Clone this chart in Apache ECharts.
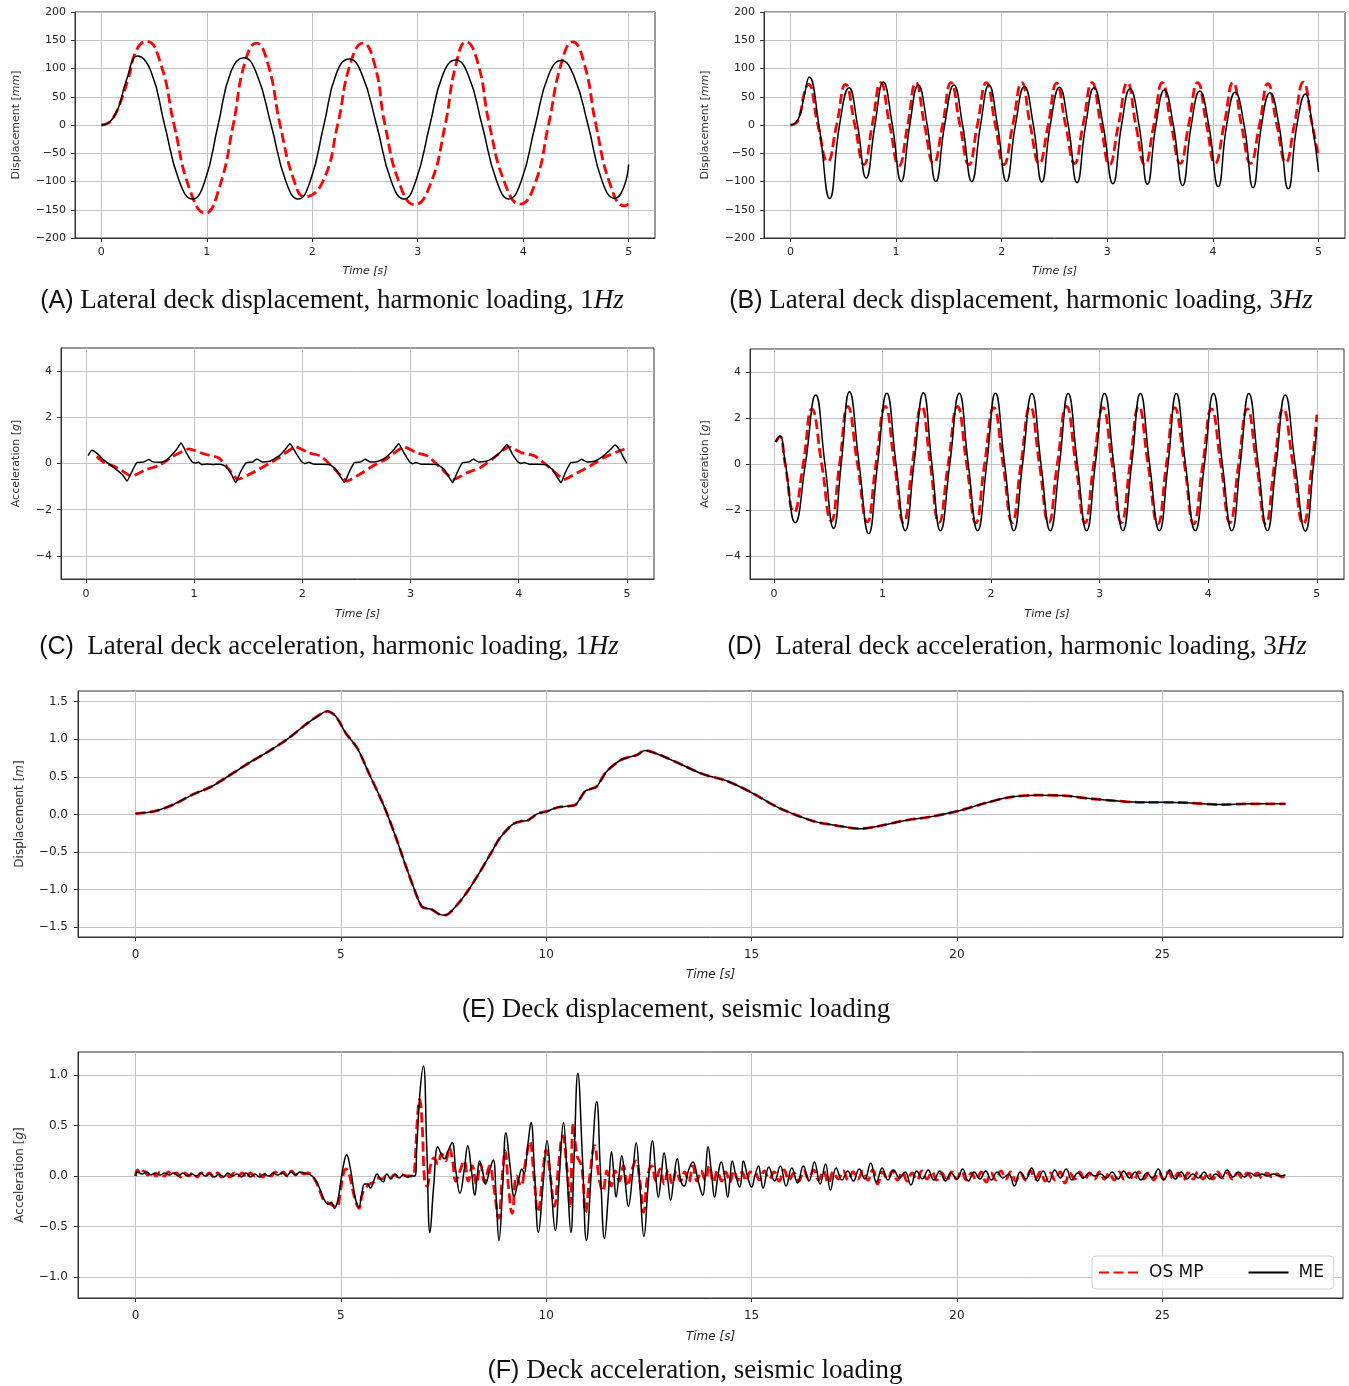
<!DOCTYPE html>
<html><head><meta charset="utf-8">
<script src="https://cdn.jsdelivr.net/npm/echarts@6/dist/echarts.min.js"></script>
<style>html,body{margin:0;padding:0;background:#fff}#c{width:1349px;height:1386px}</style>
</head><body><div id="c"></div>
<script>
// ---------- tick labels ----------
const xTicksHarm = [0, 1, 2, 3, 4, 5];
const xTicksSeis = [0, 5, 10, 15, 20, 25];
const yTicksDispH = [-200, -150, -100, -50, 0, 50, 100, 150, 200];
const yTicksAccH = [-4, -2, 0, 2, 4];
const yTicksDispS = [-1.5, -1.0, -0.5, 0, 0.5, 1.0, 1.5];
const yTicksAccS = [-1.0, -0.5, 0, 0.5, 1.0];
const seriesNames = ['OS MP', 'ME'];

// ---------- (A) displacement 1 Hz [time s, mm] ----------
const meA = [[0,0],[0.05,2],[0.11,12],[0.17,35],[0.235,78],[0.345,122],[0.47,95],[0.6,0],[0.74,-100],[0.864,-131],[0.98,-100],[1.107,0],[1.23,95],[1.35,119],[1.47,92],[1.61,0],[1.75,-100],[1.865,-131],[1.98,-100],[2.11,0],[2.23,92],[2.35,117],[2.47,90],[2.61,0],[2.75,-100],[2.87,-131],[2.98,-100],[3.115,0],[3.24,90],[3.36,115],[3.48,88],[3.61,0],[3.75,-100],[3.865,-131],[3.98,-100],[4.115,0],[4.24,88],[4.36,114],[4.48,87],[4.615,0],[4.75,-100],[4.87,-130],[4.95,-112],[5.0,-70]];
const osmpA = [[0,0],[0.05,2],[0.11,12],[0.17,35],[0.255,82],[0.337,134],[0.43,148],[0.56,110],[0.69,0],[0.84,-115],[0.985,-156],[1.12,-110],[1.25,0],[1.36,110],[1.47,145],[1.58,108],[1.695,0],[1.83,-100],[1.93,-127],[2.1,-100],[2.24,0],[2.36,108],[2.48,145],[2.59,108],[2.69,0],[2.83,-105],[2.97,-141],[3.12,-105],[3.26,0],[3.36,105],[3.46,147],[3.57,110],[3.68,0],[3.83,-105],[3.97,-140],[4.11,-105],[4.24,0],[4.36,108],[4.47,147],[4.58,108],[4.69,0],[4.83,-108],[4.96,-143],[5.0,-140]];

// ---------- (B) displacement 3 Hz ----------
const meB = [[0,0],[0.05,4],[0.09,18],[0.13,51],[0.178,85],[0.27,0],[0.372,-130],[0.465,0],[0.555,66],[0.635,0],[0.717,-94],[0.8,0],[0.879,76],[0.965,0],[1.049,-100],[1.13,0],[1.21,71],[1.295,0],[1.377,-100],[1.46,0],[1.547,71],[1.63,0],[1.717,-100],[1.8,0],[1.879,71],[1.96,0],[2.045,-100],[2.13,0],[2.215,68],[2.3,0],[2.38,-101],[2.46,0],[2.547,67],[2.63,0],[2.713,-102],[2.795,0],[2.874,66],[2.96,0],[3.053,-104],[3.135,0],[3.215,64],[3.3,0],[3.38,-105],[3.46,0],[3.54,62],[3.625,0],[3.713,-107],[3.795,0],[3.875,60],[3.96,0],[4.05,-109],[4.13,0],[4.21,58],[4.295,0],[4.38,-111],[4.46,0],[4.54,57],[4.625,0],[4.713,-113],[4.795,0],[4.875,55],[4.94,0],[5.0,-83]];
const osmpB = [[0,0],[0.05,3],[0.09,18],[0.13,55],[0.17,72],[0.26,0],[0.352,-65],[0.437,0],[0.522,72],[0.61,0],[0.696,-70],[0.775,0],[0.855,75],[0.94,0],[1.028,-72],[1.11,0],[1.188,75],[1.27,0],[1.355,-68],[1.44,0],[1.52,75],[1.605,0],[1.69,-70],[1.77,0],[1.855,75],[1.94,0],[2.02,-70],[2.105,0],[2.19,75],[2.27,0],[2.355,-68],[2.44,0],[2.52,74],[2.605,0],[2.69,-68],[2.77,0],[2.855,75],[2.94,0],[3.02,-70],[3.105,0],[3.19,75],[3.27,0],[3.355,-70],[3.44,0],[3.52,75],[3.605,0],[3.69,-68],[3.77,0],[3.855,75],[3.94,0],[4.02,-68],[4.105,0],[4.19,75],[4.27,0],[4.355,-68],[4.44,0],[4.52,73],[4.605,0],[4.69,-66],[4.77,0],[4.855,76],[4.94,0],[5.0,-56]];

// ---------- (C) acceleration 1 Hz [g] ----------
const meC = [[0.02,0.34],[0.055,0.57],[0.1,0.45],[0.16,0.17],[0.24,-0.11],[0.3,-0.33],[0.34,-0.5],[0.38,-0.76],[0.42,-0.4],[0.47,0.03],[0.53,0.06],[0.58,0.17],[0.62,0.07],[0.68,0.05],[0.74,0.12],[0.79,0.36],[0.84,0.62],[0.88,0.89],[0.93,0.45],[0.98,0.08],[1.01,0.02],[1.04,0.05],[1.07,-0.04],[1.12,-0.02],[1.18,-0.04],[1.24,-0.03],[1.29,-0.12],[1.34,-0.42],[1.385,-0.83],[1.425,-0.4],[1.48,0.03],[1.54,0.06],[1.58,0.2],[1.63,0.07],[1.7,0.1],[1.74,0.2],[1.79,0.35],[1.84,0.6],[1.886,0.86],[1.94,0.46],[1.99,0.1],[2.02,0.0],[2.06,0.05],[2.1,-0.02],[2.16,-0.03],[2.25,-0.04],[2.31,-0.26],[2.35,-0.55],[2.39,-0.82],[2.43,-0.4],[2.48,0.03],[2.54,0.07],[2.58,0.18],[2.63,0.06],[2.7,0.1],[2.75,0.2],[2.8,0.38],[2.85,0.62],[2.89,0.85],[2.94,0.45],[2.99,0.08],[3.02,-0.01],[3.05,0.04],[3.1,-0.03],[3.17,-0.03],[3.25,-0.05],[3.31,-0.25],[3.35,-0.55],[3.39,-0.83],[3.43,-0.4],[3.48,0.03],[3.54,0.07],[3.58,0.18],[3.63,0.07],[3.7,0.1],[3.75,0.2],[3.8,0.36],[3.85,0.6],[3.89,0.82],[3.94,0.42],[3.99,0.08],[4.02,0.0],[4.05,0.04],[4.1,-0.03],[4.17,-0.03],[4.25,-0.05],[4.31,-0.25],[4.35,-0.55],[4.39,-0.83],[4.43,-0.4],[4.48,0.03],[4.54,0.07],[4.58,0.18],[4.63,0.07],[4.7,0.1],[4.75,0.22],[4.8,0.4],[4.85,0.62],[4.89,0.8],[4.93,0.6],[4.97,0.25],[5.0,0.0]];
const osmpC = [[0.1,0.3],[0.18,0.0],[0.26,-0.12],[0.33,-0.3],[0.42,-0.55],[0.556,-0.26],[0.675,-0.09],[0.8,0.3],[0.95,0.63],[1.11,0.39],[1.23,0.24],[1.31,-0.19],[1.405,-0.69],[1.54,-0.4],[1.66,-0.09],[1.78,0.24],[1.94,0.72],[2.06,0.46],[2.17,0.32],[2.29,-0.19],[2.41,-0.76],[2.53,-0.47],[2.65,-0.11],[2.77,0.17],[2.94,0.72],[3.06,0.46],[3.16,0.32],[3.28,-0.19],[3.4,-0.69],[3.52,-0.4],[3.64,-0.19],[3.75,0.17],[3.91,0.72],[4.03,0.46],[4.15,0.32],[4.29,-0.19],[4.42,-0.69],[4.54,-0.4],[4.66,-0.11],[4.78,0.24],[4.9,0.49],[5.0,0.67]];

// ---------- (D) acceleration 3 Hz [g] ----------
const meD = [[0.016,0.96],[0.055,1.22],[0.1,0.2],[0.197,-2.55],[0.29,0],[0.385,3.0],[0.47,0],[0.55,-2.8],[0.62,0],[0.696,3.14],[0.785,0],[0.873,-3.03],[0.955,0],[1.04,3.08],[1.125,0],[1.21,-2.9],[1.29,0],[1.377,3.1],[1.455,0],[1.534,-2.9],[1.62,0],[1.707,3.08],[1.79,0],[1.876,-2.9],[1.96,0],[2.04,3.08],[2.125,0],[2.21,-2.9],[2.29,0],[2.376,3.07],[2.46,0],[2.545,-2.9],[2.63,0],[2.71,3.07],[2.795,0],[2.88,-2.9],[2.96,0],[3.045,3.07],[3.13,0],[3.214,-2.9],[3.295,0],[3.375,3.07],[3.46,0],[3.55,-2.9],[3.63,0],[3.706,3.07],[3.79,0],[3.88,-2.9],[3.965,0],[4.048,3.07],[4.13,0],[4.217,-2.9],[4.295,0],[4.374,3.07],[4.46,0],[4.544,-2.9],[4.625,0],[4.709,3.0],[4.8,0],[4.894,-2.92],[4.97,0],[5.0,1.6]];
const osmpD = [[0.016,0.96],[0.055,1.2],[0.1,0.1],[0.185,-2.1],[0.27,0],[0.35,2.39],[0.44,0],[0.527,-2.48],[0.605,0],[0.68,2.5],[0.77,0],[0.86,-2.52],[0.94,0],[1.025,2.5],[1.11,0],[1.195,-2.55],[1.275,0],[1.36,2.5],[1.44,0],[1.52,-2.55],[1.605,0],[1.69,2.5],[1.775,0],[1.86,-2.55],[1.94,0],[2.025,2.45],[2.11,0],[2.195,-2.55],[2.275,0],[2.36,2.5],[2.445,0],[2.53,-2.55],[2.61,0],[2.695,2.5],[2.78,0],[2.865,-2.55],[2.945,0],[3.03,2.45],[3.115,0],[3.2,-2.55],[3.28,0],[3.36,2.5],[3.445,0],[3.535,-2.6],[3.615,0],[3.69,2.45],[3.78,0],[3.865,-2.6],[3.95,0],[4.03,2.4],[4.115,0],[4.2,-2.55],[4.28,0],[4.36,2.4],[4.445,0],[4.53,-2.6],[4.61,0],[4.69,2.4],[4.78,0],[4.875,-2.6],[4.955,0],[5.0,2.15]];

// ---------- (E) seismic displacement [m] ----------
const meE = [[0,0.01],[0.45,0.04],[0.92,0.13],[1.38,0.26],[1.85,0.37],[2.32,0.53],[2.78,0.69],[3.25,0.84],[3.72,1.01],[4.18,1.21],[4.56,1.35],[4.67,1.37],[4.88,1.30],[5.12,1.08],[5.4,0.88],[5.68,0.55],[6.05,0.11],[6.33,-0.29],[6.61,-0.73],[6.89,-1.14],[6.98,-1.23],[7.1,-1.25],[7.2,-1.26],[7.4,-1.33],[7.54,-1.34],[7.82,-1.21],[8.1,-1.01],[8.38,-0.77],[8.66,-0.51],[8.85,-0.33],[9.05,-0.2],[9.22,-0.12],[9.4,-0.09],[9.55,-0.08],[9.79,0.01],[10.02,0.04],[10.2,0.08],[10.35,0.10],[10.55,0.11],[10.72,0.13],[10.95,0.31],[11.1,0.34],[11.23,0.37],[11.47,0.57],[11.84,0.73],[12.21,0.79],[12.4,0.85],[12.77,0.79],[13.3,0.66],[13.84,0.53],[14.37,0.45],[15,0.29],[15.65,0.09],[16.5,-0.09],[17.04,-0.145],[17.62,-0.19],[18.1,-0.155],[18.74,-0.08],[19.38,-0.03],[20.02,0.044],[20.66,0.145],[21.3,0.23],[21.94,0.255],[22.58,0.25],[23.22,0.21],[23.86,0.18],[24.5,0.16],[25.03,0.16],[25.57,0.155],[26.42,0.13],[27.16,0.14],[28.0,0.14]];
const osmpE = [[0,0.01],[0.45,0.04],[0.92,0.13],[1.38,0.26],[1.85,0.37],[2.32,0.53],[2.78,0.69],[3.25,0.84],[3.72,1.01],[4.18,1.21],[4.56,1.35],[4.67,1.37],[4.88,1.30],[5.12,1.08],[5.4,0.88],[5.68,0.55],[6.05,0.11],[6.33,-0.29],[6.61,-0.73],[6.89,-1.14],[6.98,-1.23],[7.1,-1.25],[7.2,-1.26],[7.4,-1.33],[7.54,-1.34],[7.82,-1.21],[8.1,-1.01],[8.38,-0.77],[8.66,-0.51],[8.85,-0.33],[9.05,-0.2],[9.22,-0.12],[9.4,-0.09],[9.55,-0.08],[9.79,0.01],[10.02,0.04],[10.2,0.08],[10.35,0.10],[10.55,0.11],[10.72,0.13],[10.95,0.31],[11.1,0.34],[11.23,0.37],[11.47,0.57],[11.84,0.73],[12.21,0.79],[12.4,0.85],[12.77,0.79],[13.3,0.66],[13.84,0.53],[14.37,0.45],[15,0.29],[15.65,0.09],[16.5,-0.09],[17.04,-0.145],[17.62,-0.19],[18.1,-0.155],[18.74,-0.08],[19.38,-0.03],[20.02,0.044],[20.66,0.145],[21.3,0.23],[21.94,0.255],[22.58,0.25],[23.22,0.21],[23.86,0.18],[24.5,0.16],[25.03,0.16],[25.57,0.155],[26.42,0.13],[27.16,0.14],[28.0,0.14]];

// ---------- (F) seismic acceleration [g] ----------
const meF = [[0,0.0],[0.05,0.04],[0.16,0.02],[0.27,0.04],[0.38,0.01],[0.49,0.03],[0.6,0.01],[0.71,0.03],[0.82,0.01],[0.93,0.03],[1.04,0.0],[1.15,0.03],[1.26,0.0],[1.37,0.02],[1.48,0.0],[1.59,0.03],[1.7,0.0],[1.81,0.02],[1.92,-0.01],[2.03,0.02],[2.14,-0.01],[2.25,0.03],[2.36,0.0],[2.47,0.02],[2.58,-0.01],[2.69,0.03],[2.8,-0.01],[2.91,0.02],[3.02,-0.01],[3.13,0.02],[3.24,0.0],[3.35,0.03],[3.46,0.01],[3.57,0.03],[3.68,0.0],[3.79,0.04],[3.9,0.01],[4.0,0.04],[4.1,0.03],[4.2,0.02],[4.3,0.0],[4.4,-0.05],[4.5,-0.14],[4.6,-0.24],[4.7,-0.28],[4.77,-0.26],[4.84,-0.32],[4.92,-0.25],[5.0,-0.05],[5.07,0.12],[5.14,0.21],[5.22,0.1],[5.3,-0.1],[5.37,-0.25],[5.44,-0.31],[5.5,-0.2],[5.58,-0.08],[5.65,-0.08],[5.72,-0.12],[5.8,-0.05],[5.88,0.02],[5.95,-0.02],[6.03,-0.06],[6.12,0.02],[6.22,-0.03],[6.32,0.02],[6.42,-0.02],[6.52,0.01],[6.62,-0.01],[6.72,0.0],[6.8,0.0],[6.85,0.3],[6.92,0.8],[7.01,1.09],[7.09,0.3],[7.17,-0.56],[7.26,-0.1],[7.36,0.29],[7.44,0.22],[7.52,0.17],[7.61,0.25],[7.71,0.33],[7.8,0.05],[7.9,-0.17],[8.0,0.05],[8.09,0.30],[8.18,0.05],[8.26,-0.19],[8.32,0.0],[8.38,0.15],[8.45,0.05],[8.52,-0.08],[8.62,0.05],[8.71,0.16],[8.78,-0.2],[8.85,-0.64],[8.94,-0.1],[9.02,0.43],[9.12,0.1],[9.22,-0.2],[9.32,-0.05],[9.41,0.07],[9.46,0.02],[9.55,0.3],[9.63,0.53],[9.72,0.0],[9.81,-0.56],[9.92,-0.1],[10.02,0.35],[10.12,-0.1],[10.22,-0.54],[10.32,0.0],[10.42,0.53],[10.51,0.0],[10.6,-0.56],[10.68,0.2],[10.77,1.02],[10.88,0.2],[10.98,-0.64],[11.1,0.05],[11.23,0.74],[11.32,0.05],[11.42,-0.62],[11.51,-0.2],[11.59,0.24],[11.65,0.0],[11.7,-0.21],[11.77,0.0],[11.84,0.20],[11.92,-0.05],[12.0,-0.30],[12.1,0.0],[12.19,0.33],[12.28,-0.1],[12.38,-0.60],[12.48,-0.1],[12.59,0.35],[12.66,0.05],[12.73,-0.21],[12.8,0.0],[12.87,0.23],[12.95,0.0],[13.03,-0.24],[13.1,-0.05],[13.19,0.17],[13.28,-0.05],[13.36,-0.1],[13.46,0.05],[13.57,0.14],[13.7,-0.05],[13.81,-0.19],[13.88,0.05],[13.94,0.29],[14.02,0.05],[14.1,-0.21],[14.18,0.0],[14.26,0.14],[14.34,0.0],[14.42,-0.21],[14.48,0.0],[14.53,0.15],[14.62,0.0],[14.71,-0.11],[14.76,0.0],[14.8,0.15],[14.9,0.0],[15.0,-0.11],[15.08,0.0],[15.17,0.1],[15.22,0.0],[15.28,-0.12],[15.42,0.09],[15.56,-0.05],[15.7,0.1],[15.84,-0.1],[15.98,0.08],[16.12,-0.07],[16.26,0.1],[16.4,-0.05],[16.53,0.14],[16.67,-0.08],[16.8,0.12],[16.92,-0.14],[17.06,0.08],[17.2,-0.04],[17.34,0.05],[17.48,-0.05],[17.62,0.07],[17.76,-0.03],[17.9,0.13],[18.04,-0.06],[18.18,0.08],[18.32,-0.04],[18.46,0.06],[18.6,-0.02],[18.74,0.04],[18.88,-0.09],[19.02,0.05],[19.16,-0.03],[19.3,0.06],[19.44,-0.04],[19.58,0.05],[19.72,-0.05],[19.86,0.03],[20.0,-0.03],[20.14,0.07],[20.28,-0.05],[20.42,0.04],[20.56,-0.03],[20.7,0.05],[20.84,-0.04],[20.98,0.04],[21.12,-0.02],[21.26,0.02],[21.4,-0.1],[21.54,0.04],[21.68,-0.03],[21.82,0.08],[21.96,-0.05],[22.1,0.05],[22.24,-0.06],[22.38,0.06],[22.52,-0.02],[22.66,0.07],[22.8,-0.04],[22.94,0.03],[23.08,-0.02],[23.22,0.03],[23.36,0.0],[23.5,0.02],[23.64,-0.02],[23.78,0.04],[23.92,-0.03],[24.06,0.05],[24.2,-0.02],[24.34,0.04],[24.48,-0.04],[24.62,0.03],[24.76,-0.02],[24.9,0.07],[25.04,-0.04],[25.18,0.06],[25.32,-0.03],[25.46,0.04],[25.6,-0.03],[25.74,0.02],[25.88,-0.02],[26.02,0.04],[26.16,-0.03],[26.3,0.02],[26.44,-0.02],[26.58,0.06],[26.72,-0.01],[26.86,0.04],[27.0,-0.01],[27.14,0.03],[27.28,0.0],[27.42,0.02],[27.56,0.0],[27.7,0.02],[27.84,0.0],[28.0,0.01]];
const osmpF = [[0,0.0],[0.05,0.06],[0.12,0.02],[0.2,0.05],[0.3,0.01],[0.4,0.04],[0.5,0.0],[0.6,0.04],[0.7,0.0],[0.8,0.04],[0.9,0.01],[1.0,0.03],[1.1,-0.01],[1.2,0.03],[1.3,0.0],[1.4,0.03],[1.5,-0.01],[1.6,0.03],[1.7,0.0],[1.8,0.03],[1.9,-0.01],[2.0,0.03],[2.1,-0.01],[2.2,0.02],[2.3,-0.01],[2.4,0.03],[2.5,0.0],[2.6,0.03],[2.7,-0.02],[2.8,0.03],[2.9,0.0],[3.0,0.02],[3.1,-0.01],[3.2,0.03],[3.3,0.0],[3.4,0.04],[3.5,0.01],[3.6,0.04],[3.7,0.0],[3.8,0.05],[3.9,0.01],[4.0,0.04],[4.1,0.02],[4.2,0.03],[4.3,0.0],[4.4,-0.06],[4.5,-0.16],[4.6,-0.25],[4.7,-0.27],[4.8,-0.29],[4.9,-0.31],[4.98,-0.18],[5.05,0.0],[5.12,0.07],[5.2,0.02],[5.28,-0.12],[5.36,-0.25],[5.44,-0.32],[5.52,-0.18],[5.6,-0.12],[5.7,-0.08],[5.8,-0.06],[5.9,-0.02],[6.0,-0.03],[6.1,0.0],[6.2,-0.02],[6.3,0.01],[6.4,-0.01],[6.5,0.01],[6.6,0.0],[6.75,0.0],[6.8,0.1],[6.86,0.55],[6.92,0.76],[6.98,0.5],[7.04,-0.05],[7.1,-0.1],[7.18,0.1],[7.27,0.18],[7.36,0.12],[7.45,0.22],[7.55,0.15],[7.64,0.28],[7.72,0.15],[7.8,-0.05],[7.9,0.05],[8.0,0.15],[8.1,-0.05],[8.2,0.1],[8.3,-0.08],[8.4,0.12],[8.5,-0.06],[8.62,0.1],[8.72,-0.1],[8.84,-0.42],[8.93,0.0],[9.0,0.25],[9.08,-0.1],[9.17,-0.37],[9.28,0.0],[9.38,-0.1],[9.5,0.15],[9.6,0.34],[9.7,0.0],[9.8,-0.36],[9.9,-0.05],[10.0,0.26],[10.1,0.0],[10.2,-0.3],[10.3,0.1],[10.4,0.4],[10.5,0.1],[10.58,-0.3],[10.66,0.52],[10.75,0.2],[10.86,0.1],[10.96,-0.36],[11.06,0.0],[11.18,0.3],[11.28,0.0],[11.38,-0.15],[11.48,0.05],[11.58,-0.1],[11.68,0.05],[11.78,-0.05],[11.88,0.1],[11.98,-0.1],[12.08,0.05],[12.18,0.15],[12.28,-0.05],[12.37,-0.36],[12.47,0.0],[12.57,0.1],[12.67,-0.05],[12.77,0.07],[12.87,-0.08],[12.97,0.06],[13.07,-0.08],[13.17,0.05],[13.27,-0.05],[13.37,0.04],[13.47,-0.06],[13.57,0.1],[13.67,-0.05],[13.77,0.05],[13.87,-0.04],[13.97,0.1],[14.07,-0.06],[14.17,0.05],[14.27,-0.05],[14.37,0.04],[14.47,-0.06],[14.57,0.05],[14.67,-0.04],[14.77,0.04],[14.87,-0.05],[14.97,0.04],[15.07,0.04],[15.19,-0.04],[15.31,0.05],[15.43,-0.03],[15.55,0.04],[15.67,-0.05],[15.79,0.06],[15.91,-0.04],[16.03,0.03],[16.15,-0.05],[16.27,0.05],[16.39,-0.03],[16.51,0.06],[16.63,-0.04],[16.75,0.05],[16.87,-0.07],[16.99,0.04],[17.11,-0.03],[17.23,0.05],[17.35,-0.04],[17.47,0.04],[17.59,-0.03],[17.71,0.05],[17.83,-0.04],[17.95,0.06],[18.07,-0.08],[18.19,0.04],[18.31,-0.03],[18.43,0.05],[18.55,-0.04],[18.67,0.04],[18.79,-0.05],[18.91,0.03],[19.03,-0.04],[19.15,0.05],[19.27,-0.03],[19.39,0.04],[19.51,-0.04],[19.63,0.03],[19.75,-0.05],[19.87,0.04],[19.99,-0.03],[20.11,0.05],[20.23,-0.04],[20.35,0.03],[20.47,-0.04],[20.59,0.04],[20.71,-0.06],[20.83,0.03],[20.95,-0.04],[21.07,0.05],[21.19,-0.03],[21.31,0.04],[21.43,-0.05],[21.55,0.03],[21.67,-0.04],[21.79,0.05],[21.91,-0.03],[22.03,0.04],[22.15,-0.05],[22.27,0.03],[22.39,-0.04],[22.51,0.04],[22.63,-0.07],[22.75,0.03],[22.87,-0.03],[22.99,0.04],[23.11,-0.04],[23.23,0.03],[23.35,-0.03],[23.47,0.04],[23.59,-0.03],[23.71,0.03],[23.83,-0.04],[23.95,0.04],[24.07,-0.03],[24.19,0.03],[24.31,-0.04],[24.43,0.04],[24.55,-0.03],[24.67,0.03],[24.79,-0.04],[24.91,0.04],[25.03,-0.03],[25.15,0.04],[25.27,-0.03],[25.39,0.03],[25.51,-0.04],[25.63,0.03],[25.75,-0.03],[25.87,0.04],[25.99,-0.03],[26.11,0.03],[26.23,-0.03],[26.35,0.04],[26.47,-0.02],[26.59,0.03],[26.71,-0.03],[26.83,0.03],[26.95,-0.02],[27.07,0.03],[27.19,-0.02],[27.31,0.03],[27.43,-0.02],[27.55,0.03],[27.67,-0.01],[27.79,0.02],[27.91,-0.01],[28.0,0.01]];

// ---------- layout / style ----------
const TICK_FONT = 'DejaVu Sans';
const minus = s => String(s).replace('-', '\u2212');
const fmtInt = v => minus(v);
const fmt1 = v => minus(Number(v).toFixed(1));

const panels = [
  {grid:{left:75,top:12,width:580,height:226}, xr:[-0.25,5.25], xt:xTicksHarm, yr:[-200,200], yt:yTicksDispH, fmt:fmtInt, yname:['Displacement [','mm',']'], ygap:53, xgap:28, xm:9, ym:9, os:osmpA, me:meA, sm:0.5, fs:11},
  {grid:{left:764,top:12,width:581,height:226}, xr:[-0.25,5.25], xt:xTicksHarm, yr:[-200,200], yt:yTicksDispH, fmt:fmtInt, yname:['Displacement [','mm',']'], ygap:53, xgap:28, xm:9, ym:9, os:osmpB, me:meB, sm:0.5, fs:11},
  {grid:{left:61,top:348,width:593,height:231}, xr:[-0.23,5.25], xt:xTicksHarm, yr:[-5,5], yt:yTicksAccH, fmt:fmtInt, yname:['Acceleration [','g',']'], ygap:39, xgap:30, xm:10, ym:9, os:osmpC, me:meC, sm:0.15, fs:11},
  {grid:{left:750,top:349,width:594,height:230}, xr:[-0.22,5.25], xt:xTicksHarm, yr:[-5,5], yt:yTicksAccH, fmt:fmtInt, yname:['Acceleration [','g',']'], ygap:39, xgap:30, xm:10, ym:9, os:osmpD, me:meD, sm:0.5, fs:11},
  {grid:{left:78,top:691,width:1265,height:246}, xr:[-1.4,29.4], xt:xTicksSeis, yr:[-1.63,1.64], yt:yTicksDispS, fmt:fmt1, yname:['Displacement [','m',']'], ygap:52, xgap:32, xm:12, ym:10, os:osmpE, me:meE, sm:0.3, fs:12},
  {grid:{left:78,top:1052,width:1265,height:246}, xr:[-1.4,29.4], xt:xTicksSeis, yr:[-1.21,1.23], yt:yTicksAccS, fmt:fmt1, yname:['Acceleration [','g',']'], ygap:52, xgap:33, xm:12, ym:10, os:osmpF, me:meF, sm:0.45, fs:12}
];

const captions = [
  {x:332, y:301, lab:'(A)', txt:' Lateral deck displacement, harmonic loading, 1', unit:'Hz'},
  {x:1021, y:301, lab:'(B)', txt:' Lateral deck displacement, harmonic loading, 3', unit:'Hz'},
  {x:329, y:647, lab:'(C)', txt:'  Lateral deck acceleration, harmonic loading, 1', unit:'Hz'},
  {x:1017, y:647, lab:'(D)', txt:'  Lateral deck acceleration, harmonic loading, 3', unit:'Hz'},
  {x:676, y:1010, lab:'(E)', txt:' Deck displacement, seismic loading', unit:''},
  {x:695, y:1371, lab:'(F)', txt:' Deck acceleration, seismic loading', unit:''}
];

const grids = [], xAxes = [], yAxes = [], series = [];
panels.forEach((p, i) => {
  grids.push(Object.assign({show:true, borderColor:'#333', borderWidth:1, backgroundColor:'#fff'}, p.grid));
  xAxes.push({
    type:'value', gridIndex:i, min:p.xr[0], max:p.xr[1],
    name:'Time [s]', nameLocation:'middle', nameGap:p.xgap,
    nameTextStyle:{fontFamily:TICK_FONT, fontSize:p.fs, fontStyle:'italic', color:'#222', verticalAlign:'top'},
    axisLine:{show:true, onZero:false, lineStyle:{color:'#333', width:1}},
    axisTick:{show:true, inside:false, length:4, lineStyle:{color:'#333'}, customValues:p.xt},
    axisLabel:{customValues:p.xt, margin:p.xm, fontFamily:TICK_FONT, fontSize:p.fs, color:'#222', formatter:v => minus(v)},
    splitLine:{show:true, lineStyle:{color:'#c4c4c4', width:1}}
  });
  yAxes.push({
    type:'value', gridIndex:i, min:p.yr[0], max:p.yr[1],
    name:'{a|' + p.yname[0] + '}{b|' + p.yname[1] + '}{a|' + p.yname[2] + '}',
    nameLocation:'middle', nameGap:p.ygap, nameRotate:90,
    nameTextStyle:{rich:{
      a:{fontFamily:TICK_FONT, fontSize:p.fs, color:'#333'},
      b:{fontFamily:TICK_FONT, fontSize:p.fs, color:'#333', fontStyle:'italic'}}},
    axisLine:{show:true, onZero:false, lineStyle:{color:'#333', width:1}},
    axisTick:{show:true, inside:false, length:4, lineStyle:{color:'#333'}, customValues:p.yt},
    axisLabel:{customValues:p.yt, margin:p.ym, fontFamily:TICK_FONT, fontSize:p.fs, color:'#222', formatter:p.fmt},
    splitLine:{show:true, lineStyle:{color:'#c4c4c4', width:1}}
  });
  series.push({
    name:seriesNames[0], type:'line', xAxisIndex:i, yAxisIndex:i, data:p.os,
    symbol:'none', smooth:p.sm, clip:true, z:2,
    lineStyle:{color:'#ff0000', width:2.8, type:[10,4.5]}, itemStyle:{color:'#ff0000', opacity:0}
  });
  series.push({
    name:seriesNames[1], type:'line', xAxisIndex:i, yAxisIndex:i, data:p.me,
    symbol:'none', smooth:p.sm, clip:true, z:3,
    lineStyle:{color:'#000', width:1.5}, itemStyle:{color:'#000', opacity:0}
  });
});

const graphics = captions.map(c => ({
  type:'text', x:c.x, y:c.y, z:10,
  style:{
    text:'{s|' + c.lab + '}{r|' + c.txt + '}' + (c.unit ? '{i|' + c.unit + '}' : ''),
    align:'center', verticalAlign:'middle', textAlign:'center', textVerticalAlign:'middle',
    rich:{
      s:{fontFamily:'Liberation Sans', fontSize:25, fill:'#111'},
      r:{fontFamily:'Liberation Serif', fontSize:27, fill:'#111'},
      i:{fontFamily:'Liberation Serif', fontSize:27, fontStyle:'italic', fill:'#111'}
    }
  }
}));

const chart = echarts.init(document.getElementById('c'), null, {renderer:'canvas'});
chart.setOption({
  animation:false,
  backgroundColor:'#fff',
  grid:grids, xAxis:xAxes, yAxis:yAxes, series:series,
  legend:{
    data:seriesNames, left:1092, top:1256, orient:'horizontal',
    padding:[8,10,8,6], itemGap:44, itemWidth:40, itemHeight:12,
    borderColor:'#d0d0d0', borderWidth:1, borderRadius:4,
    backgroundColor:'rgba(255,255,255,0.85)',
    itemStyle:{opacity:0},
    textStyle:{fontFamily:TICK_FONT, fontSize:17, color:'#111', padding:[0,0,0,5]}
  },
  graphic:graphics
});
</script></body></html>
